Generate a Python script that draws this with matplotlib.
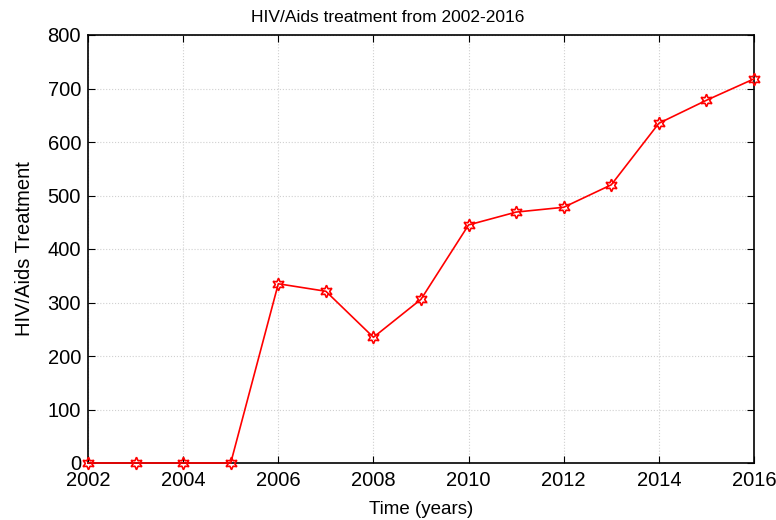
import numpy as np
import matplotlib
matplotlib.use('Agg')
import matplotlib.pyplot as plt

# treatment counts per year
years = [2002, 2003, 2004, 2005, 2006, 2007, 2008, 2009, 2010, 2011, 2012, 2013, 2014, 2015, 2016]
treatment = [0, 0, 0, 0, 335, 321, 235, 306, 445, 469, 478, 520, 635, 678, 718]

plt.rcParams['font.family'] = ['Liberation Sans', 'DejaVu Sans']

fig = plt.figure(figsize=(7.76, 5.2), dpi=100)
ax = fig.add_axes([88 / 776, 1 - 463 / 520, (754 - 88) / 776, (463 - 35) / 520])

ax.plot(years, treatment, color='red', linewidth=1.2,
        marker=(6, 1, 0), markersize=9, markerfacecolor='none',
        markeredgecolor='red', markeredgewidth=1.2, clip_on=False, zorder=3)

ax.set_xlim(2002, 2016)
ax.set_ylim(0, 800)
ax.set_xticks(np.arange(2002, 2017, 2))
ax.set_yticks(np.arange(0, 801, 100))
ax.grid(True, linestyle=':', color='#d0d0d0', linewidth=0.8)
ax.tick_params(direction='in', length=5, labelsize=14.5, top=True, right=True,
               labeltop=False, labelright=False)
ax.tick_params(axis='x', pad=6)
ax.tick_params(axis='y', pad=5)
for s in ax.spines.values():
    s.set_linewidth(1.2)

# title is centred on the whole figure
fig.text(0.5, 1 - 17 / 520, 'HIV/Aids treatment from 2002-2016', fontsize=12.5,
         ha='center', va='center')
ax.set_xlabel('Time (years)', fontsize=13.5, labelpad=8)
ax.set_ylabel('HIV/Aids Treatment', fontsize=14.5, labelpad=10)

fig.savefig('out.png', dpi=100)
